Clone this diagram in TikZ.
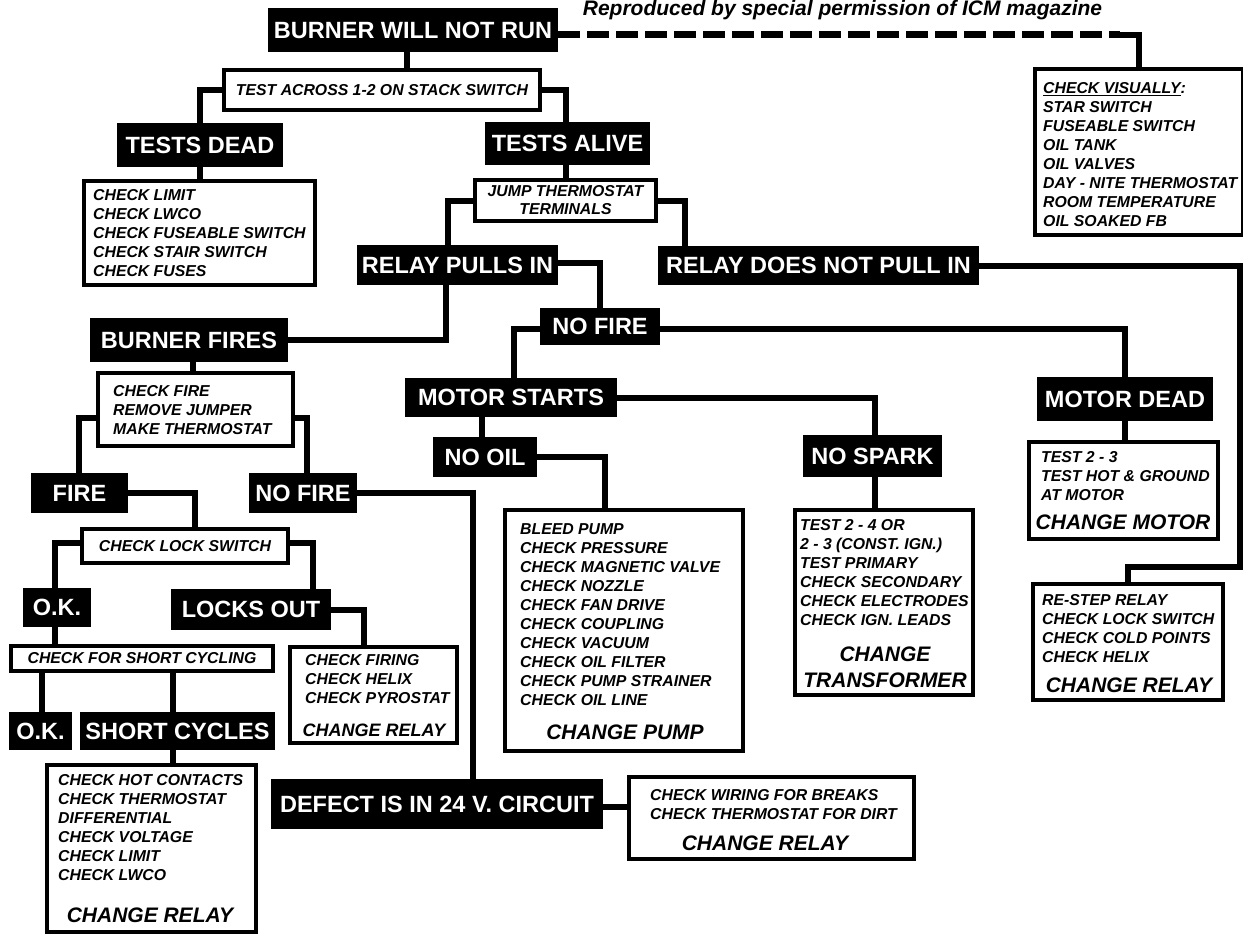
\documentclass[tikz,border=0pt]{standalone}
\usepackage{fontspec}
\setmainfont{Liberation Sans}
\begin{document}
\begin{tikzpicture}[x=1pt,y=-1pt,
  blk/.style={fill=black,text=white,font=\bfseries\fontsize{23.5}{26}\selectfont,inner sep=0pt},
  wbox/.style={draw=black,line width=4pt,fill=white,inner sep=0pt},
  wtxt/.style={font=\bfseries\itshape\fontsize{15.8}{18}\selectfont,align=center},
  lst/.style={font=\bfseries\itshape\fontsize{15.8}{19}\selectfont,align=left,inner sep=0pt,anchor=north west},
  chg/.style={font=\bfseries\itshape\fontsize{21}{26}\selectfont,inner sep=0pt,align=center},
  conn/.style={line width=6pt,draw=black},
  dashline/.style={line width=7pt,draw=black,dash pattern=on 22pt off 7pt}]
\useasboundingbox (0,0) rectangle (1243,934);

% title
\node[font=\bfseries\itshape\fontsize{21}{23}\selectfont,anchor=base,inner sep=0pt] (title) at (842.5,16) {Reproduced by special permission of ICM magazine};

% black nodes
\node[blk,minimum width=290pt,minimum height=44pt] (bwnr) at (413,30) {BURNER WILL NOT RUN};
\node[blk,minimum width=166pt,minimum height=44pt] (td) at (200,145) {TESTS DEAD};
\node[blk,minimum width=165pt,minimum height=43pt] (ta) at (567.5,143.5) {TESTS ALIVE};
\node[blk,minimum width=201pt,minimum height=40pt] (rpi) at (457.5,265) {RELAY PULLS IN};
\node[blk,minimum width=321pt,minimum height=39pt] (rdnpi) at (818.5,265.5) {RELAY DOES NOT PULL IN};
\node[blk,minimum width=198pt,minimum height=44pt] (bf) at (189,340) {BURNER FIRES};
\node[blk,minimum width=120pt,minimum height=37pt] (nf2) at (600,326.5) {NO FIRE};
\node[blk,minimum width=212pt,minimum height=39pt] (ms) at (511,397.5) {MOTOR STARTS};
\node[blk,minimum width=176pt,minimum height=44pt] (md) at (1125,399) {MOTOR DEAD};
\node[blk,minimum width=104pt,minimum height=40pt] (noil) at (485,457) {NO OIL};
\node[blk,minimum width=139pt,minimum height=42pt] (nsp) at (872.5,456) {NO SPARK};
\node[blk,minimum width=97pt,minimum height=40pt] (fire) at (79.5,493) {FIRE};
\node[blk,minimum width=108pt,minimum height=40pt] (nf1) at (303,493) {NO FIRE};
\node[blk,minimum width=68pt,minimum height=39pt] (ok1) at (57,607.5) {O.K.};
\node[blk,minimum width=160pt,minimum height=41pt] (lo) at (251,609.5) {LOCKS OUT};
\node[blk,minimum width=63pt,minimum height=38pt] (ok2) at (40.5,731) {O.K.};
\node[blk,minimum width=195pt,minimum height=38pt] (sc) at (177.5,731) {SHORT CYCLES};
\node[blk,minimum width=332pt,minimum height=50pt] (def) at (437,804) {DEFECT IS IN 24 V. CIRCUIT};

% white boxes
\node[wbox,minimum width=208pt,minimum height=166pt] (cv) at (1139,152) {};
\node[wbox,wtxt,minimum width=316pt,minimum height=40pt] (tac) at (382,90) {TEST ACROSS 1-2 ON STACK SWITCH};
\node[wbox,wtxt,minimum width=181pt,minimum height=41pt] (jump) at (565.5,200.5) {JUMP THERMOSTAT\\TERMINALS};
\node[wbox,minimum width=231pt,minimum height=104pt] (cl) at (199.5,233) {};
\node[wbox,minimum width=195pt,minimum height=73pt] (cf) at (195.5,409.5) {};
\node[wbox,wtxt,minimum width=206pt,minimum height=34pt] (cls) at (185,546) {CHECK LOCK SWITCH};
\node[wbox,wtxt,minimum width=262pt,minimum height=25pt] (cfsc) at (142,658.5) {CHECK FOR SHORT CYCLING};
\node[wbox,minimum width=167pt,minimum height=96pt] (cfir) at (373.5,695) {};
\node[wbox,minimum width=209pt,minimum height=167pt] (chc) at (151.5,848.5) {};
\node[wbox,minimum width=238pt,minimum height=241pt] (pump) at (624,630.5) {};
\node[wbox,minimum width=178pt,minimum height=185pt] (t24) at (884,602.5) {};
\node[wbox,minimum width=189pt,minimum height=97pt] (t23) at (1123.5,490.5) {};
\node[wbox,minimum width=190pt,minimum height=116pt] (rs) at (1128,642) {};
\node[wbox,minimum width=285pt,minimum height=82pt] (cw) at (771.5,818) {};

% box texts
\node[lst] (cvt) at (1043,82.4) {\underline{CHECK VISUALLY}:\\STAR SWITCH\\FUSEABLE SWITCH\\OIL TANK\\OIL VALVES\\DAY - NITE THERMOSTAT\\ROOM TEMPERATURE\\OIL SOAKED FB};
\node[lst] (clt) at (93,189.4) {CHECK LIMIT\\CHECK LWCO\\CHECK FUSEABLE SWITCH\\CHECK STAIR SWITCH\\CHECK FUSES};
\node[lst] (cft) at (113,385.4) {CHECK FIRE\\REMOVE JUMPER\\MAKE THERMOSTAT};
\node[lst] (cfirt) at (305,654.4) {CHECK FIRING\\CHECK HELIX\\CHECK PYROSTAT};
\node[chg,font=\bfseries\itshape\fontsize{18}{22}\selectfont] (cfirc) at (374,730) {CHANGE RELAY};
\node[lst] (chct) at (58,774.4) {CHECK HOT CONTACTS\\CHECK THERMOSTAT\\DIFFERENTIAL\\CHECK VOLTAGE\\CHECK LIMIT\\CHECK LWCO};
\node[chg] (chcc) at (150,915) {CHANGE RELAY};
\node[lst] (pumpt) at (520,523.4) {BLEED PUMP\\CHECK PRESSURE\\CHECK MAGNETIC VALVE\\CHECK NOZZLE\\CHECK FAN DRIVE\\CHECK COUPLING\\CHECK VACUUM\\CHECK OIL FILTER\\CHECK PUMP STRAINER\\CHECK OIL LINE};
\node[chg] (pumpc) at (625,732) {CHANGE PUMP};
\node[lst] (t24t) at (800,519.4) {TEST 2 - 4 OR\\2 - 3 (CONST. IGN.)\\TEST PRIMARY\\CHECK SECONDARY\\CHECK ELECTRODES\\CHECK IGN. LEADS};
\node[chg] (t24c) at (885,667) {CHANGE\\TRANSFORMER};
\node[lst] (t23t) at (1041,451.4) {TEST 2 - 3\\TEST HOT \& GROUND\\AT MOTOR};
\node[chg] (t23c) at (1123,522) {CHANGE MOTOR};
\node[lst] (rst) at (1042,594.4) {RE-STEP RELAY\\CHECK LOCK SWITCH\\CHECK COLD POINTS\\CHECK HELIX};
\node[chg] (rsc) at (1129,685) {CHANGE RELAY};
\node[lst] (cwt) at (650,789.4) {CHECK WIRING FOR BREAKS\\CHECK THERMOSTAT FOR DIRT};
\node[chg] (cwc) at (765,843) {CHANGE RELAY};

% connectors
\coordinate (dend) at (1120,35);
\draw[dashline] ([yshift=-5pt]bwnr.east) -- (dend);
\draw[conn] (dend) -| (cv.north);
\draw[conn] ([xshift=-6pt]bwnr.south) -- ([xshift=-6pt]bwnr.south |- tac.north);
\draw[conn] (tac.west) -| (td.north);
\draw[conn] (tac.east) -| ([xshift=-2pt]ta.north);
\draw[conn] (td.south) -- (td.south |- cl.north);
\draw[conn] ([xshift=-2pt]ta.south) -- ([xshift=-2pt]ta.south |- jump.north);
\draw[conn] (jump.west) -| ([xshift=-10pt]rpi.north);
\draw[conn] ([xshift=-12pt]rpi.south) |- (bf.east);
\draw[conn] (jump.east) -| ([xshift=27pt]rdnpi.north west);
\draw[conn] ([yshift=2pt]rpi.east) -| (nf2.north);
\coordinate (rbend) at (1240,567);
\draw[conn] (rdnpi.east) -| (rbend) -| (rs.north);
\draw[conn] ([yshift=-2pt]nf2.west) -| ([xshift=3pt]ms.north);
\draw[conn] ([yshift=-2pt]nf2.east) -| (md.north);
\draw[conn] (md.south) -- (md.south |- t23.north);
\draw[conn] ([xshift=-3pt]noil.north |- ms.south) -- ([xshift=-3pt]noil.north);
\draw[conn] (noil.east) -| ([xshift=-19pt]pump.north);
\draw[conn] (ms.east) -| ([xshift=2pt]nsp.north);
\draw[conn] ([xshift=2pt]nsp.south) -- ([xshift=2pt]nsp.south |- t24.north);
\draw[conn] ([xshift=4pt]bf.south) -- ([xshift=4pt]bf.south |- cf.north);
\draw[conn] ([yshift=-8pt]cf.west) -| ([xshift=-1pt]fire.north);
\draw[conn] ([yshift=-8pt]cf.east) -| ([xshift=4pt]nf1.north);
\draw[conn] (fire.east) -| ([xshift=10pt]cls.north);
\draw[conn] ([yshift=3pt]cls.west) -| ([xshift=-2pt]ok1.north);
\draw[conn] ([yshift=3pt]cls.east) -| ([xshift=-18pt]lo.north east);
\draw[conn] (lo.east) -| ([xshift=-10pt]cfir.north);
\draw[conn] ([xshift=-2pt]ok1.south) -- ([xshift=-2pt]ok1.south |- cfsc.north);
\draw[conn] ([xshift=1pt]ok2.north |- cfsc.south) -- ([xshift=1pt]ok2.north);
\draw[conn] ([xshift=-5pt]sc.north |- cfsc.south) -- ([xshift=-5pt]sc.north);
\draw[conn] ([xshift=-5pt]sc.south) -- ([xshift=-5pt]sc.south |- chc.north);
\draw[conn] (nf1.east) -| ([xshift=36pt]def.north);
\draw[conn] ([yshift=-3pt]def.east) -- ([yshift=-3pt]def.east -| cw.west);
\end{tikzpicture}
\end{document}
